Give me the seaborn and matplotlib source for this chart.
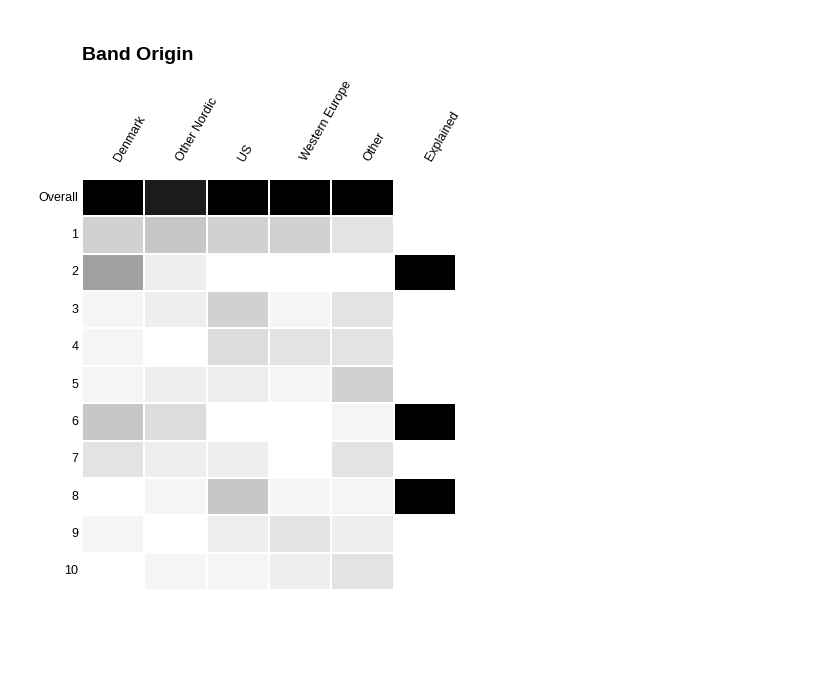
import numpy as np
import pandas as pd
import matplotlib
matplotlib.use("Agg")
import matplotlib.pyplot as plt
import matplotlib.transforms as mtransforms
from matplotlib.colors import LinearSegmentedColormap
import seaborn as sns

rows = ["Overall", "1", "2", "3", "4", "5", "6", "7", "8", "9", "10"]
columns = ["Denmark", "Other Nordic", "US", "Western Europe", "Other", "Explained"]

denmark        = [1.00, 0.18, 0.37, 0.04, 0.04, 0.04, 0.22, 0.11, 0.00, 0.04, 0.00]
other_nordic   = [0.89, 0.22, 0.07, 0.07, 0.00, 0.07, 0.14, 0.07, 0.04, 0.00, 0.04]
us             = [1.00, 0.18, 0.00, 0.18, 0.14, 0.07, 0.00, 0.07, 0.22, 0.07, 0.04]
western_europe = [1.00, 0.18, 0.00, 0.04, 0.11, 0.04, 0.00, 0.00, 0.04, 0.11, 0.07]
other          = [1.00, 0.11, 0.00, 0.11, 0.11, 0.18, 0.04, 0.11, 0.04, 0.07, 0.11]
explained      = [np.nan, np.nan, 1.00, np.nan, np.nan, np.nan, 1.00, np.nan, 1.00, np.nan, np.nan]

df = pd.DataFrame(
    {c: v for c, v in zip(columns, [denmark, other_nordic, us, western_europe, other, explained])},
    index=rows,
)

plt.rcParams["font.family"] = ["Liberation Sans", "DejaVu Sans"]

fig = plt.figure(figsize=(8.31, 6.85), dpi=100)
ax = fig.add_axes([82 / 831, 1 - 590 / 685, 374 / 831, 411 / 685])

cmap = LinearSegmentedColormap.from_list("wb", ["#ffffff", "#000000"])
sns.heatmap(df, ax=ax, cmap=cmap, vmin=0, vmax=1, cbar=False,
            linewidths=1.2, linecolor="white", square=False)

ax.xaxis.tick_top()
ax.tick_params(axis="both", length=0)
ax.tick_params(axis="x", pad=10)
ax.tick_params(axis="y", pad=2.5)
ax.set_xticklabels(columns, rotation=60, ha="left", va="bottom",
                   rotation_mode="anchor", fontsize=9)
ax.set_yticklabels(rows, rotation=0, fontsize=9)
ax.set_xlabel("")
ax.set_ylabel("")

offset = mtransforms.ScaledTranslation(9 / 100, 2 / 100, fig.dpi_scale_trans)
for lab in ax.get_xticklabels():
    lab.set_transform(lab.get_transform() + offset)

fig.text(82 / 831, 1 - 56 / 685, "Band Origin", fontsize=14, fontweight="bold",
         ha="left", va="center")

fig.savefig("out.png", dpi=100)
